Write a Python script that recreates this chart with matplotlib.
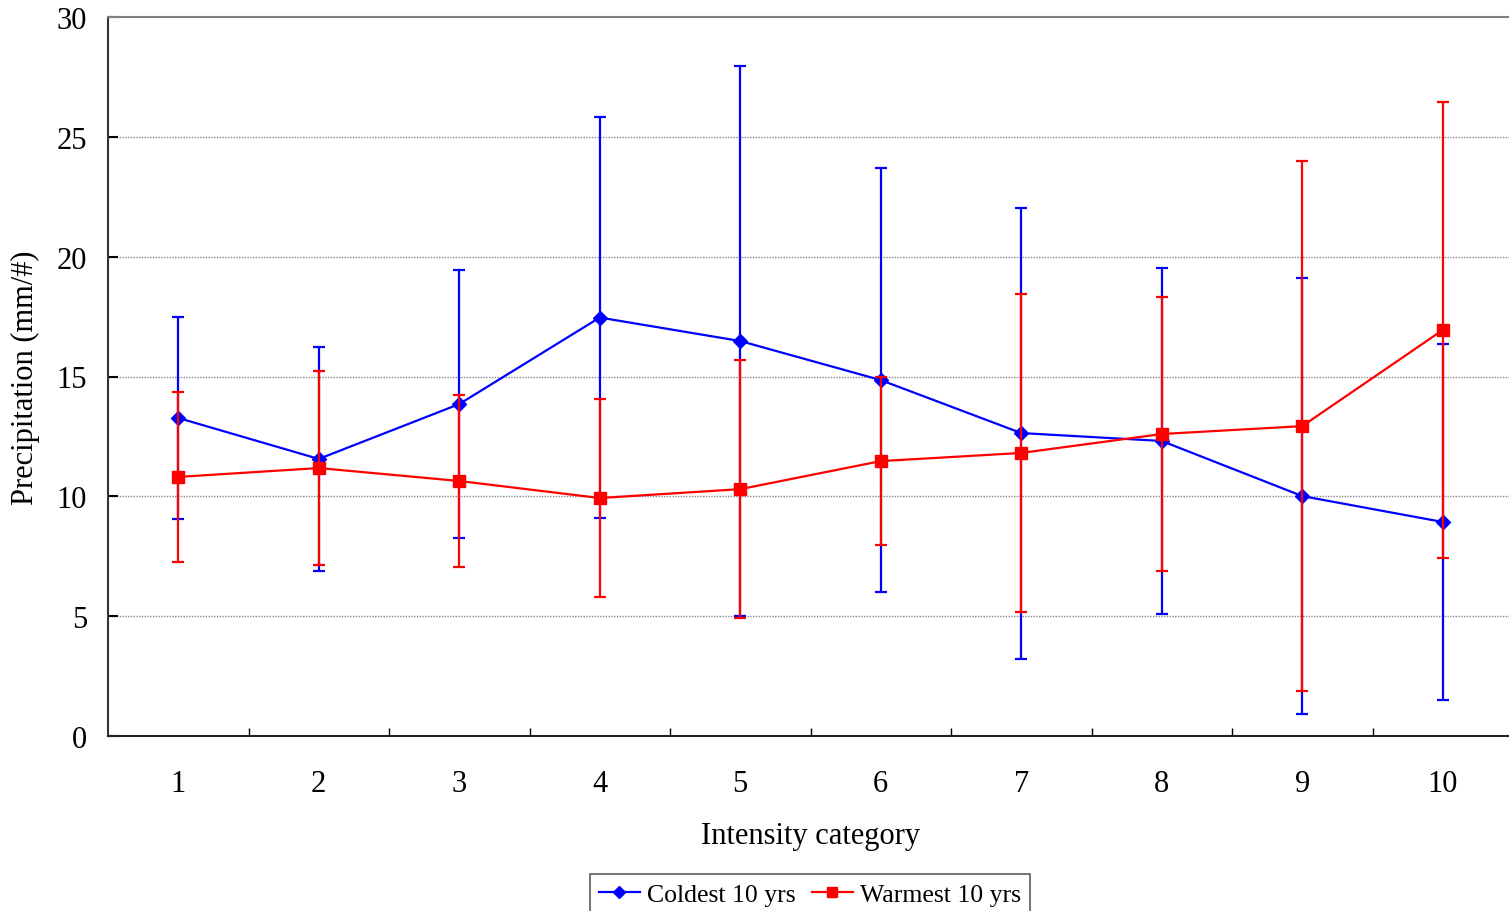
import matplotlib
matplotlib.use('Agg')
import matplotlib.pyplot as plt
from matplotlib.lines import Line2D
import numpy as np

plt.rcParams['font.family'] = ['Liberation Serif', 'DejaVu Serif']

categorias = [1, 2, 3, 4, 5, 6, 7, 8, 9, 10]

frio_media = [13.27, 11.56, 13.85, 17.46, 16.48, 14.85, 12.64, 12.31, 10.01, 8.93]
frio_erro = [4.22, 4.68, 5.60, 8.36, 11.47, 8.85, 9.41, 7.20, 9.10, 7.43]

quente_media = [10.81, 11.18, 10.64, 9.93, 10.30, 11.47, 11.81, 12.60, 12.93, 16.94]
quente_erro = [3.55, 4.05, 3.60, 4.15, 5.38, 3.50, 6.65, 5.70, 11.07, 9.50]

fig = plt.figure(figsize=(15.09, 9.12), dpi=100)
ax = fig.add_axes([108 / 1509, 1 - 737 / 912, 1405 / 1509, (737 - 18) / 912])

ax.errorbar(categorias, frio_media, yerr=frio_erro, color='#0000ff', marker='D',
            markersize=7.5, linewidth=1.6, elinewidth=1.6, capsize=4, capthick=1.6,
            zorder=3)
ax.errorbar(categorias, quente_media, yerr=quente_erro, color='#ff0000', marker='s',
            markersize=9, linewidth=1.6, elinewidth=1.6, capsize=4, capthick=1.6,
            zorder=4)

ax.set_xlim(0.5, 10.5)
ax.set_ylim(0, 30)
ax.set_yticks(np.arange(0, 31, 5))
ax.set_xticks(categorias)
ax.set_xticks(np.arange(1.5, 10.5, 1), minor=True)

ax.tick_params(axis='x', which='major', length=0, pad=24, labelsize=22)
ax.tick_params(axis='x', which='minor', direction='in', length=6, width=1)
ax.tick_params(axis='y', direction='in', length=7, width=1.5, pad=15, labelsize=22)

for g in [5, 10, 15, 20, 25]:
    ax.axhline(g, color='#888888', linewidth=1, linestyle=(0, (1, 1)), zorder=1)

ax.spines['right'].set_visible(False)
ax.spines['top'].set_color('#808080')
ax.spines['top'].set_linewidth(1.5)
ax.spines['left'].set_color('#333333')
ax.spines['left'].set_linewidth(1.5)
ax.spines['bottom'].set_color('#222222')
ax.spines['bottom'].set_linewidth(1.5)

ax.set_xlabel('Intensity category', fontsize=22, labelpad=16)
ax.set_ylabel('Precipitation (mm/#)', fontsize=22, labelpad=12)

handles = [
    Line2D([], [], color='#0000ff', marker='D', markersize=6, linewidth=1.6),
    Line2D([], [], color='#ff0000', marker='s', markersize=7, linewidth=1.6),
]
leg = fig.legend(handles, ['Coldest 10 yrs', 'Warmest 10 yrs'],
                 loc='lower center', bbox_to_anchor=(810 / 1509, -0.004), ncol=2,
                 fontsize=18.5, frameon=True, fancybox=False, handlelength=1.6,
                 handletextpad=0.3, columnspacing=0.6, borderpad=0.35,
                 borderaxespad=0)
leg.get_frame().set_edgecolor('#333333')
leg.get_frame().set_linewidth(1.2)

fig.savefig('out.png', dpi=100)
